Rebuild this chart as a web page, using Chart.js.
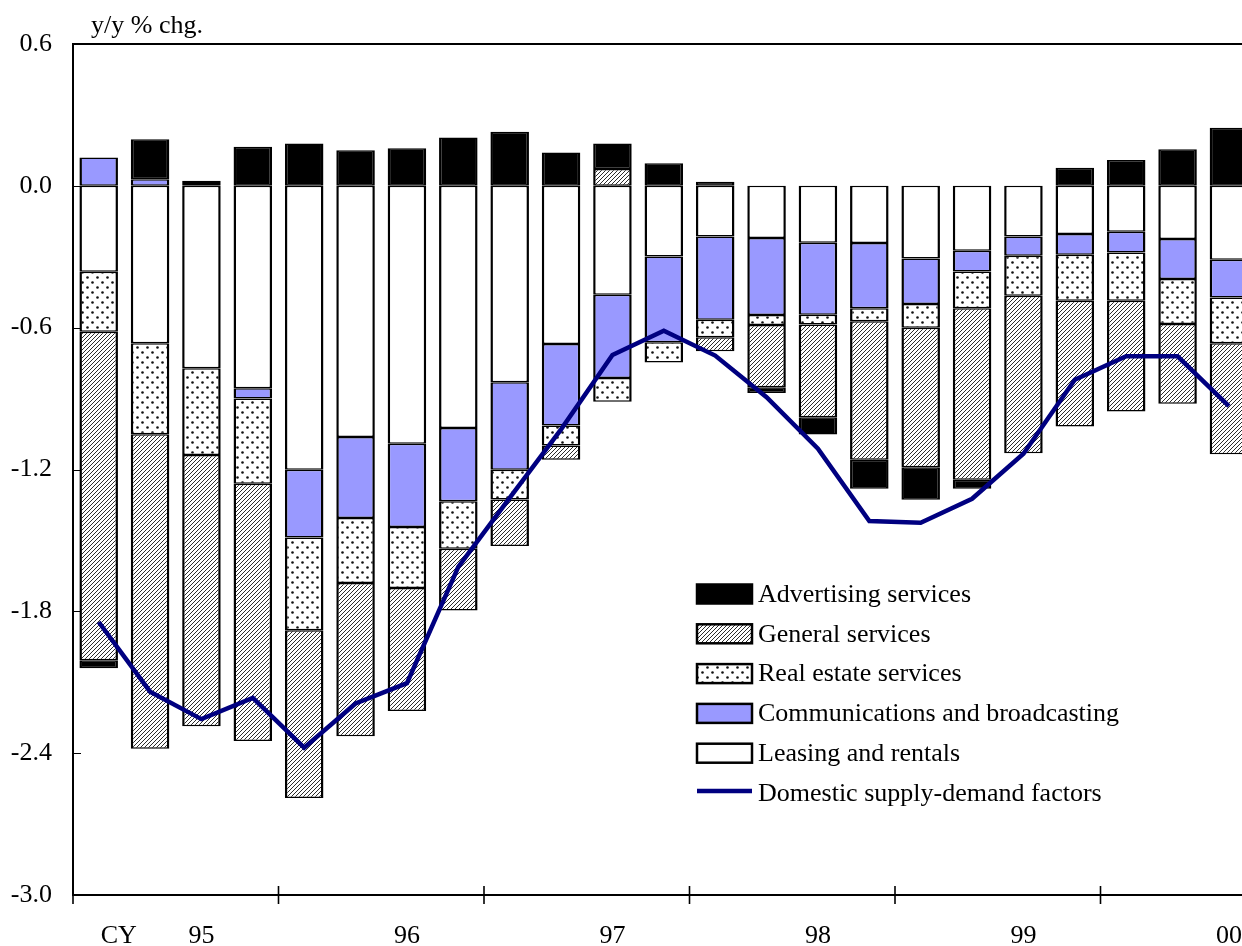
<!DOCTYPE html>
<html>
<head>
<meta charset="utf-8">
<script src="https://cdn.jsdelivr.net/npm/chart.js@4.4.1/dist/chart.umd.min.js"></script>
<style>
html,body{margin:0;padding:0;background:#fff;overflow:hidden;width:1242px;height:946px}
canvas{display:block}
</style>
</head>
<body>
<canvas id="c" width="1320" height="946"></canvas>
<script>
// ---- data ----
const quarters = ['95Q1','95Q2','95Q3','95Q4','96Q1','96Q2','96Q3','96Q4','97Q1','97Q2','97Q3','97Q4',
                  '98Q1','98Q2','98Q3','98Q4','99Q1','99Q2','99Q3','99Q4','00Q1','00Q2','00Q3','00Q4'];
const yearLabels = ['','','95','','','','96','','','','97','','','','98','','','','99','','','','00',''];
const calendarLabel = 'CY';
const unitLabel = 'y/y % chg.';
const yTicks = [0.6, 0.0, -0.6, -1.2, -1.8, -2.4, -3.0];

const leasing     = [-0.363,-0.666,-0.772,-0.856,-1.201,-1.063,-1.091,-1.024,-0.831,-0.669,-0.461,-0.299,
                     -0.214,-0.221,-0.241,-0.242,-0.307,-0.275,-0.214,-0.204,-0.194,-0.225,-0.313,null];
const comms       = [0.120,0.028,0.012,-0.044,-0.287,-0.342,-0.352,-0.310,-0.370,-0.345,-0.352,-0.363,
                     -0.352,-0.325,-0.304,-0.276,-0.193,-0.087,-0.082,-0.088,-0.088,-0.169,-0.159,null];
const realEstate  = [-0.254,-0.385,-0.367,-0.360,-0.392,-0.275,-0.258,-0.201,-0.126,-0.084,-0.100,-0.085,
                     -0.075,-0.043,-0.042,-0.055,-0.100,-0.156,-0.169,-0.194,-0.204,-0.190,-0.194,null];
const general     = [-1.390,-1.330,-1.147,-1.089,-0.710,-0.648,-0.521,-0.261,-0.197,-0.061,0.071,null,
                     -0.059,-0.263,-0.392,-0.586,-0.590,-0.725,-0.666,-0.532,-0.469,-0.338,-0.470,null];
const advertising = [-0.034,0.169,0.010,0.165,0.179,0.151,0.159,0.204,0.229,0.141,0.108,0.096,
                     0.017,-0.024,-0.073,-0.122,-0.138,-0.038,null,0.077,0.109,0.155,0.246,null];
const domestic    = [-1.845,-2.140,-2.256,-2.166,-2.377,-2.190,-2.104,-1.612,-1.320,-1.030,-0.716,-0.613,
                     -0.718,-0.894,-1.112,-1.418,-1.425,-1.324,-1.133,-0.820,-0.721,-0.721,-0.932,null];

// ---- patterns ----
function hatchPattern(){
  const s = 4, c = document.createElement('canvas'); c.width = s; c.height = s;
  const g = c.getContext('2d');
  g.fillStyle = '#fff'; g.fillRect(0,0,s,s);
  g.strokeStyle = '#222'; g.lineWidth = 0.95;
  g.beginPath();
  g.moveTo(-1, s+1); g.lineTo(s+1, -1);
  g.moveTo(-1, 1); g.lineTo(1, -1);
  g.moveTo(s-1, s+1); g.lineTo(s+1, s-1);
  g.stroke();
  return g.createPattern(c, 'repeat');
}
function dotPattern(){
  const s = 10, c = document.createElement('canvas'); c.width = s; c.height = s;
  const g = c.getContext('2d');
  g.fillStyle = '#fff'; g.fillRect(0,0,s,s);
  g.fillStyle = '#111';
  g.beginPath(); g.arc(2.5, 2.5, 1.3, 0, Math.PI*2); g.fill();
  g.beginPath(); g.arc(7.5, 7.5, 1.3, 0, Math.PI*2); g.fill();
  return g.createPattern(c, 'repeat');
}
const HATCH = hatchPattern();
const DOTS = dotPattern();

const FONT = {family: '"Liberation Serif", "Times New Roman", serif', size: 26};
const barBorder = {left: 2.5, right: 2.5, top: 1.5, bottom: 1.5};

function barSet(label, data, bg){
  return {type: 'bar', label, data, backgroundColor: bg, borderColor: '#000',
          borderWidth: barBorder, borderSkipped: false, order: 1,
          barPercentage: 0.75, categoryPercentage: 1.0};
}

// ---- decorations / legend plugin ----
const decor = {
  id: 'decor',
  afterDraw(chart){
    const {ctx, chartArea: a} = chart;
    const x = chart.scales.x, y = chart.scales.y;
    const cw = x.getPixelForValue(1) - x.getPixelForValue(0);
    ctx.save();
    ctx.strokeStyle = '#000';
    // frame top & right
    ctx.lineWidth = 2;
    ctx.beginPath(); ctx.moveTo(a.left, a.top); ctx.lineTo(a.right, a.top); ctx.lineTo(a.right, a.bottom); ctx.stroke();
    // inner y ticks
    ctx.lineWidth = 1;
    y.ticks.forEach(t => {
      const py = Math.round(y.getPixelForValue(t.value)) + 0.5;
      ctx.beginPath(); ctx.moveTo(a.left, py); ctx.lineTo(a.left + 8, py); ctx.stroke();
    });
    // year boundary ticks on x axis
    ctx.lineWidth = 1.6;
    for (let i = 0; i <= quarters.length; i += 4){
      const px = x.getPixelForValue(i) - cw/2;
      ctx.beginPath(); ctx.moveTo(px, a.bottom - 9); ctx.lineTo(px, a.bottom + 9); ctx.stroke();
    }
    // texts
    ctx.fillStyle = '#000';
    ctx.font = FONT.size + 'px ' + FONT.family;
    ctx.textAlign = 'left'; ctx.textBaseline = 'alphabetic';
    ctx.fillText(unitLabel, a.left + 18, a.top - 11);
    ctx.textAlign = 'center'; ctx.textBaseline = 'middle';
    ctx.fillText(calendarLabel, x.getPixelForValue(0) + cw*0.39, a.bottom + 26 + FONT.size*0.6);

    // legend
    const order = [4, 3, 2, 1, 0, 5];
    const lx = a.left + 624, ly = a.top + 550, step = 39.8, bw = 55, bh = 19;
    order.forEach((di, k) => {
      const ds = chart.data.datasets[di];
      const cy = ly + k*step;
      if (ds.type === 'line'){
        ctx.strokeStyle = ds.borderColor; ctx.lineWidth = 4.5;
        ctx.beginPath(); ctx.moveTo(lx, cy - 2); ctx.lineTo(lx + bw, cy - 2); ctx.stroke();
      } else {
        ctx.fillStyle = ds.backgroundColor;
        ctx.fillRect(lx, cy - bh/2, bw, bh);
        ctx.strokeStyle = '#000'; ctx.lineWidth = 2.5;
        ctx.strokeRect(lx, cy - bh/2, bw, bh);
      }
      ctx.fillStyle = '#000';
      ctx.textAlign = 'left'; ctx.textBaseline = 'middle';
      ctx.fillText(ds.label, lx + 61, cy + 1);
    });
    ctx.restore();
  }
};

new Chart(document.getElementById('c'), {
  data: {
    labels: quarters,
    datasets: [
      barSet('Leasing and rentals', leasing, '#ffffff'),
      barSet('Communications and broadcasting', comms, '#9999ff'),
      barSet('Real estate services', realEstate, DOTS),
      barSet('General services', general, HATCH),
      barSet('Advertising services', advertising, '#000000'),
      {type: 'line', label: 'Domestic supply-demand factors', data: domestic, stack: 'line',
       borderColor: '#000080', borderWidth: 4.5, pointRadius: 0, fill: false, tension: 0, order: 0}
    ]
  },
  options: {
    responsive: false,
    animation: false,
    devicePixelRatio: 1,
    layout: {padding: {left: 0, right: 14, top: 44, bottom: 0}},
    plugins: {legend: {display: false}, tooltip: {enabled: false}},
    scales: {
      x: {
        stacked: true, offset: true,
        grid: {display: false, drawTicks: false},
        border: {display: true, color: '#000', width: 2},
        ticks: {autoSkip: false, maxRotation: 0, minRotation: 0, padding: 26,
                color: '#000', font: FONT, callback: (v, i) => yearLabels[i]},
        afterFit: s => { s.height = 51; }
      },
      y: {
        stacked: true, min: -3.0, max: 0.6,
        grid: {display: false, drawTicks: false},
        border: {display: true, color: '#000', width: 2},
        afterBuildTicks: s => { s.ticks = yTicks.map(v => ({value: v})); },
        ticks: {padding: 21, color: '#000', font: FONT,
                callback: v => { const r = Math.round(v*10)/10; return (r === 0 ? 0 : r).toFixed(1); }},
        afterFit: s => { s.width = 73; }
      }
    }
  },
  plugins: [decor]
});
</script>
</body>
</html>
